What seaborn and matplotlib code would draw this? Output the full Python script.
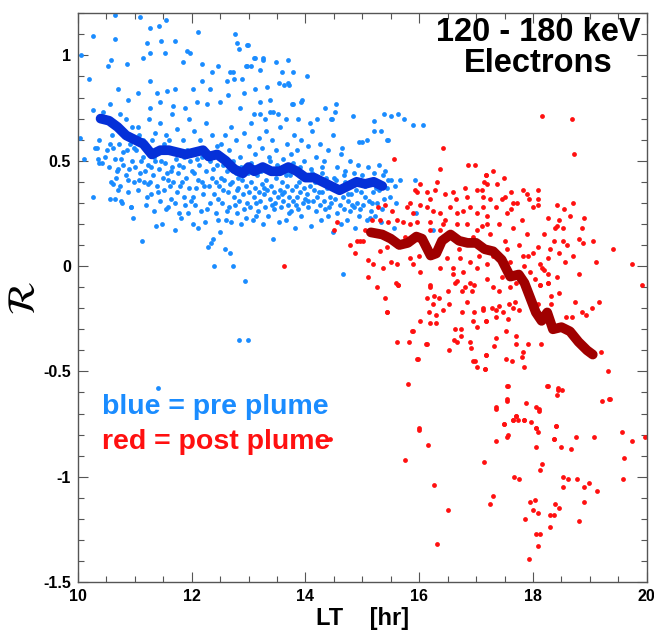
import numpy as np
import pandas as pd
import matplotlib
matplotlib.use("Agg")
import matplotlib.pyplot as plt
from matplotlib.ticker import MultipleLocator, FormatStrFormatter
import seaborn as sns

# pre plume (blue) scatter, local time [hr] and R
pre_lt = [
    10.65, 10.26, 10.05, 10.19, 10.04, 10.27, 10.27, 10.65, 11.10, 11.27, 11.43, 11.55, 11.21, 11.46, 11.70,
    12.11, 12.76, 12.79, 12.97, 10.53, 10.58, 10.86, 11.14, 11.27, 11.53, 11.91, 11.97, 11.84, 12.18, 12.36,
    12.46, 12.67, 12.97, 13.11, 13.25, 13.48, 13.69, 13.58, 13.78, 14.03, 10.70, 10.88, 11.05, 11.27, 11.39,
    11.56, 11.70, 12.02, 12.18, 12.32, 12.62, 13.11, 13.32, 13.53, 13.71, 10.56, 10.74, 11.27, 11.44, 11.67,
    11.88, 12.09, 12.27, 12.50, 12.64, 12.85, 13.20, 13.37, 13.78, 13.93, 12.83, 12.99, 13.09, 13.25, 12.73,
    12.74, 12.88, 12.95, 13.04, 13.20, 13.62, 13.69, 12.92, 13.37, 13.94, 13.76, 14.34, 14.53, 14.52, 14.45,
    14.83, 15.20, 15.38, 15.50, 15.62, 15.20, 15.33, 15.08, 14.94, 15.43, 14.20, 14.08, 13.87, 13.66, 13.52,
    13.43, 13.29, 13.20, 13.09, 14.46, 15.73, 15.89, 16.06, 14.64, 15.00, 15.45, 12.83, 12.99, 11.41,
    10.11, 10.33, 10.35, 10.37, 10.30, 10.38, 10.42, 10.45, 10.48,
    10.52, 10.55, 10.58, 10.60, 10.62, 10.65, 10.68, 10.70, 10.72, 10.74, 10.76, 10.78, 10.80, 10.82, 10.84,
    10.86, 10.88, 10.90, 10.92, 10.94, 10.96, 10.98, 10.62, 10.56, 10.66, 10.76, 10.70, 10.93, 10.97,
    11.01, 11.03, 11.05, 11.08, 11.10, 11.12, 11.14, 11.16, 11.18, 11.20, 11.22, 11.24, 11.26, 11.28, 11.30,
    11.32, 11.34, 11.36, 11.38, 11.40, 11.42, 11.44, 11.46, 11.48, 11.49,
    11.51, 11.53, 11.55, 11.57, 11.58, 11.60, 11.62, 11.64, 11.66, 11.68, 11.70, 11.72, 11.74, 11.76, 11.78,
    11.80, 11.81, 11.84, 11.86, 11.88, 11.90, 11.93, 11.95, 11.97, 11.99,
    12.02, 12.04, 12.06, 12.08, 12.11, 12.13, 12.16, 12.18, 12.20, 12.23, 12.25, 12.28, 12.30, 12.32, 12.34,
    12.36, 12.37, 12.39, 12.40, 12.42, 12.44, 12.46, 12.48, 12.50,
    12.52, 12.54, 12.56, 12.58, 12.60, 12.62, 12.64, 12.66, 12.67, 12.69, 12.71, 12.72, 12.74, 12.76, 12.78,
    12.80, 12.82, 12.84, 12.86, 12.88, 12.90, 12.92, 12.93, 12.95, 12.97, 12.99,
    13.01, 13.03, 13.05, 13.07, 13.09, 13.11, 13.13, 13.15, 13.17, 13.19, 13.21, 13.23, 13.25, 13.27, 13.29,
    13.31, 13.33, 13.35, 13.37, 13.39, 13.41, 13.43, 13.45, 13.47, 13.49,
    13.51, 13.53, 13.55, 13.57, 13.59, 13.61, 13.63, 13.65, 13.67, 13.69, 13.71, 13.73, 13.75, 13.77, 13.79,
    13.81, 13.83, 13.85, 13.87, 13.89, 13.91, 13.93, 13.95, 13.97, 13.99,
    14.02, 14.05, 14.08, 14.10, 14.13, 14.15, 14.18, 14.20, 14.23, 14.25, 14.28, 14.30, 14.33, 14.35, 14.38,
    14.40, 14.43, 14.45, 14.48,
    14.52, 14.55, 14.58, 14.60, 14.63, 14.66, 14.68, 14.70, 14.73, 14.75, 14.78, 14.80, 14.83, 14.86, 14.88,
    14.91, 14.94, 14.97,
    15.02, 15.05, 15.08, 15.12, 15.15, 15.18, 15.22, 15.26, 15.30, 15.34, 15.38, 15.43, 15.46, 15.50, 15.55,
    15.60, 15.66, 15.92, 15.95, 16.24, 15.13, 14.66,
    12.52, 12.58, 12.65, 12.70, 12.78, 12.85, 12.92, 13.00, 13.05, 13.12, 13.18, 13.24, 13.30, 13.36, 13.42,
    13.48, 13.55, 13.60, 13.68, 13.74, 13.80, 13.86, 13.92, 13.98, 14.05, 14.12, 14.18, 14.25, 14.32, 14.40,
    14.48, 14.55, 14.62, 14.70, 14.78, 14.85, 14.92, 15.00, 15.10, 15.20, 15.30, 15.40,
    11.05, 11.15, 11.25, 11.35, 11.45, 11.55, 11.65, 11.75, 11.85, 11.95, 12.05, 12.15, 12.25, 12.35, 12.45,
    10.85, 10.95,
    13.10, 13.30, 13.50, 13.70, 13.90, 14.10, 14.30, 14.50, 14.70, 14.90,
    11.07, 11.19, 11.33, 11.41, 11.52, 11.63, 11.71, 11.83, 11.92,
    12.03, 12.12, 12.19, 12.27, 12.38, 12.47, 12.55, 12.63, 12.73, 12.79, 12.87, 12.96,
    13.04, 13.14, 13.22, 13.28, 13.38, 13.44, 13.52, 13.58, 13.66, 13.72, 13.78, 13.84, 13.88, 13.96,
    14.04, 14.11, 14.17, 14.24, 14.29, 14.36, 14.42, 14.47, 14.54, 14.61, 14.67, 14.74, 14.81, 14.89, 14.96,
    15.04, 15.11, 15.17, 15.24, 15.32, 15.37, 15.48, 15.58,
    10.57, 10.67, 10.79, 10.89, 10.99,
    11.11, 11.23, 11.29, 11.47, 11.59, 11.77, 11.87,
    12.01, 12.09, 12.22, 12.33, 12.43, 12.57, 12.68, 12.81,
]
pre_r = [
    1.19, 1.09, 1.00, 0.89, 0.61, 0.74, 0.33, 1.08, 1.18, 1.13, 1.14, 1.17, 1.06, 1.07, 1.07,
    1.11, 1.10, 1.06, 1.05, 0.95, 0.98, 0.96, 0.99, 1.01, 1.01, 1.02, 1.01, 0.97, 0.96, 0.92,
    0.95, 0.92, 0.95, 0.99, 0.99, 0.97, 0.98, 0.92, 0.92, 0.90, 0.84, 0.79, 0.82, 0.88, 0.82,
    0.83, 0.84, 0.84, 0.88, 0.84, 0.88, 0.84, 0.85, 0.87, 0.86, 0.77, 0.72, 0.75, 0.78, 0.76,
    0.75, 0.78, 0.77, 0.78, 0.81, 0.75, 0.78, 0.73, 0.77, 0.78, 1.03, 1.05, 0.99, 0.98, 0.92,
    0.89, 0.89, 0.95, 0.95, 0.93, 0.86, 0.87, 0.82, 0.79, 0.79, 0.77, 0.75, 0.77, 0.73, 0.70,
    0.71, 0.69, 0.72, 0.71, 0.72, 0.64, 0.64, 0.60, 0.59, 0.60, 0.70, 0.68, 0.70, 0.70, 0.72,
    0.73, 0.70, 0.72, 0.72, 0.70, 0.70, 0.67, 0.67, 0.56, 0.59, 0.60, -0.35, -0.35, -0.58,
    0.51, 0.56, 0.51, 0.49, 0.56, 0.60, 0.49, 0.73, 0.52,
    0.55, 0.47, 0.40, 0.62, 0.56, 0.51, 0.45, 0.36, 0.58, 0.38, 0.51, 0.30, 0.48, 0.64, 0.43,
    0.55, 0.35, 0.46, 0.58, 0.28, 0.50, 0.40, 0.39, 0.32, 0.32, 0.31, 0.46, 0.28, 0.23,
    0.47, 0.55, 0.36, 0.62, 0.44, 0.12, 0.52, 0.40, 0.45, 0.57, 0.33, 0.48, 0.40, 0.34, 0.60,
    0.43, 0.26, 0.50, 0.19, 0.38, 0.46, 0.31, 0.55, 0.20, 0.42,
    0.36, 0.49, 0.27, 0.44, 0.28, 0.60, 0.38, 0.32, 0.47, 0.40, 0.17, 0.51, 0.35, 0.44, 0.25,
    0.38, 0.23, 0.47, 0.33, 0.29, 0.42, 0.25, 0.37, 0.50, 0.31,
    0.20, 0.44, 0.29, 0.37, 0.18, 0.48, 0.26, 0.40, 0.34, 0.21, 0.45, 0.09, 0.38, 0.30, 0.11,
    0.42, 0.13, 0.00, 0.34, 0.25, 0.48, 0.32, 0.38, 0.16,
    0.42, 0.30, 0.36, 0.08, 0.22, 0.45, 0.35, 0.28, 0.06, 0.21, 0.40, 0.00, 0.33, 0.29, 0.44,
    0.25, 0.37, 0.31, 0.20, 0.41, 0.34, 0.27, -0.07, 0.38, 0.30, 0.44,
    0.35, 0.28, 0.40, 0.22, 0.33, 0.37, 0.30, 0.43, 0.26, 0.35, 0.31, 0.39, 0.20, 0.34, 0.28,
    0.41, 0.36, 0.24, 0.32, 0.38, 0.29, 0.13, 0.35, 0.30, 0.42,
    0.33, 0.21, 0.36, 0.28, 0.40, 0.31, 0.35, 0.22, 0.38, 0.29, 0.33, 0.43, 0.26, 0.36, 0.31,
    0.18, 0.38, 0.33, 0.27, 0.40, 0.35, 0.24, 0.30, 0.37, 0.32,
    0.34, 0.28, 0.38, 0.19, 0.31, 0.36, 0.26, 0.33, 0.40, 0.29, 0.22, 0.35, 0.31, 0.27, 0.37,
    0.24, 0.33, 0.30, 0.16,
    0.32, 0.25, 0.36, 0.29, 0.20, 0.33, 0.27, 0.37, 0.22, 0.31, 0.26, 0.34, 0.39, 0.28, 0.18,
    0.30, 0.24, 0.35,
    0.29, 0.33, 0.22, 0.31, 0.26, 0.35, 0.24, 0.30, 0.36, 0.27, 0.32, 0.37, 0.41, 0.41, 0.18,
    0.30, 0.41, 0.41, 0.25, 0.17, 0.23, -0.04,
    0.58, 0.62, 0.55, 0.66, 0.60, 0.52, 0.63, 0.57, 0.68, 0.53, 0.61, 0.56, 0.64, 0.52, 0.60,
    0.55, 0.66, 0.51, 0.58, 0.53, 0.62, 0.55, 0.60, 0.50, 0.57, 0.64, 0.52, 0.58, 0.50, 0.55,
    0.62, 0.47, 0.53, 0.45, 0.50, 0.44, 0.48, 0.43, 0.47, 0.44, 0.48, 0.45,
    0.66, 0.60, 0.70, 0.63, 0.68, 0.62, 0.72, 0.65, 0.60, 0.70, 0.64, 0.60, 0.68, 0.62, 0.57,
    0.70, 0.66,
    0.47, 0.46, 0.48, 0.45, 0.47, 0.46, 0.44, 0.42, 0.40, 0.41,
    0.41, 0.29, 0.52, 0.35, 0.58, 0.45, 0.30, 0.40, 0.55,
    0.33, 0.41, 0.52, 0.27, 0.46, 0.22, 0.48, 0.26, 0.50, 0.36, 0.47, 0.23,
    0.49, 0.24, 0.45, 0.37, 0.50, 0.27, 0.47, 0.34, 0.43, 0.25, 0.49, 0.29, 0.45, 0.43,
    0.31, 0.44, 0.40, 0.35, 0.47, 0.42, 0.28, 0.38, 0.41, 0.37, 0.43, 0.34, 0.29, 0.36, 0.27,
    0.38, 0.40, 0.30, 0.37, 0.21, 0.43, 0.33, 0.38,
    0.58, 0.42, 0.54, 0.41, 0.56,
    0.50, 0.39, 0.47, 0.50, 0.41, 0.48, 0.52,
    0.45, 0.51, 0.38, 0.50, 0.40, 0.41, 0.39, 0.42,
]

# post plume (red) scatter
post_lt = [
    13.62, 18.15, 18.68, 18.72, 17.29, 17.49, 17.17, 17.36, 17.14, 17.61, 17.82, 18.08, 17.89, 18.08, 17.93,
    17.65, 17.50, 17.24, 17.10, 18.42, 18.70, 18.54, 18.00, 18.08, 18.26, 18.65, 18.89, 18.42, 18.52, 18.86,
    18.38, 18.80, 18.87, 19.05, 19.40, 19.10, 19.74, 19.91, 18.56, 18.45, 18.26, 18.52, 18.37, 18.08, 18.00,
    17.91, 18.12, 18.26, 18.42, 18.80, 18.15, 18.12, 18.26, 18.03,
    16.41, 15.55, 16.85, 16.98, 17.17, 16.36, 16.31, 16.01, 15.92, 15.96, 16.13, 16.19, 16.27, 16.45, 16.59,
    16.64, 16.80, 16.84, 17.01, 17.12, 17.19, 15.83, 15.78, 15.89, 16.01, 16.13, 16.24, 16.36, 16.54, 16.66,
    16.77, 16.89, 17.01, 17.12, 17.19, 15.27, 15.40, 15.52, 15.61, 15.71, 15.31, 15.17, 15.45, 15.83, 15.96,
    16.19, 16.41, 16.66, 16.84, 17.10, 16.19, 16.36, 17.01, 14.55, 14.50, 14.90, 15.01, 14.78, 14.87, 15.10,
    15.18, 15.31, 15.43, 15.36, 15.61, 15.83, 15.89, 15.63, 15.10, 16.01, 16.19, 16.36, 16.48, 16.59, 16.71,
    16.77, 16.89, 17.01, 16.66, 16.89, 17.19, 17.19,
    15.59, 15.63, 16.19, 16.13, 16.26, 16.34, 16.50, 16.63, 16.75, 16.80, 16.92, 16.96, 16.24, 16.52, 16.84,
    17.12, 15.43, 16.17, 16.29, 16.41, 16.75, 16.96, 16.01, 16.19, 16.29, 15.89, 16.94, 17.17, 16.63, 16.73,
    16.73, 17.01, 15.61, 15.82, 16.13, 16.61, 16.66, 16.89, 16.91, 16.52, 17.17, 15.98, 16.94, 16.98, 17.01,
    17.15, 15.80, 15.99, 14.43,
    15.75, 15.99, 16.15, 16.26, 16.50, 16.31, 17.14, 17.29, 17.24, 17.35, 17.35, 17.49, 17.54, 17.54, 17.56,
    17.65, 17.70, 17.73, 17.66, 17.75, 17.84, 17.87, 17.86, 17.94, 17.93, 17.96, 18.00, 18.03, 18.06, 18.06,
    18.06, 18.08, 18.05, 18.12, 18.08, 18.10, 18.12, 18.15, 18.24, 18.30, 18.30, 18.37, 18.37, 18.38, 18.40,
    18.42, 18.44, 18.45, 18.49, 18.51, 18.52, 18.52, 18.61, 18.66, 18.75, 18.77, 18.80, 18.89, 18.89, 18.98,
    19.07, 19.12, 19.21, 19.35, 19.19, 19.31, 19.56, 19.60, 19.58, 19.74, 19.97, 15.87, 16.12, 15.96,
    17.12, 17.17, 17.28, 17.35, 17.35, 17.40, 17.47, 17.57, 17.64, 17.69, 17.75, 17.56, 17.52, 17.70, 17.35,
    17.31, 17.70, 17.91, 17.82, 17.80, 17.17, 17.52, 17.63, 17.84, 17.15, 18.14, 18.09, 18.31, 18.31, 18.46,
    18.27, 18.12, 18.73, 18.86, 18.93, 19.03, 19.16, 18.58, 18.68, 19.33, 18.26, 18.44, 17.56, 17.54, 17.35,
    18.10, 17.70, 17.64, 17.84, 17.49, 18.40, 18.06, 18.08, 17.54, 18.37,
    17.25, 17.30, 17.40, 17.45, 17.50, 17.55, 17.60, 17.65, 17.70, 17.75, 17.80, 17.85, 17.90, 17.95, 17.35,
    17.45, 17.55, 17.62, 17.72, 17.82, 18.20, 18.30, 18.45, 18.60, 18.70, 18.20, 17.30, 17.40, 17.60, 17.20,
    17.05, 16.95, 16.70, 16.60, 16.45, 16.00, 16.10, 15.75, 15.50, 15.25, 15.40, 15.05, 15.43, 14.96,
]
post_r = [
    0.00, 0.71, 0.70, 0.53, 0.45, 0.42, 0.43, 0.39, 0.40, 0.35, 0.36, 0.36, 0.34, 0.32, 0.32,
    0.30, 0.33, 0.32, 0.36, 0.29, 0.30, 0.27, 0.28, 0.29, 0.23, 0.24, 0.23, 0.19, 0.18, 0.18,
    0.18, 0.13, 0.11, 0.12, 0.08, 0.02, 0.01, -0.09, 0.02, 0.06, 0.04, 0.12, 0.12, 0.09, 0.06,
    0.05, 0.01, -0.04, -0.05, -0.04, -0.01, -0.09, -0.08, -0.06,
    0.56, 0.51, 0.48, 0.48, 0.43, 0.46, 0.40, 0.39, 0.36, 0.35, 0.35, 0.32, 0.36, 0.34, 0.35,
    0.32, 0.37, 0.33, 0.36, 0.33, 0.39, 0.30, 0.28, 0.25, 0.29, 0.28, 0.26, 0.25, 0.28, 0.25,
    0.26, 0.28, 0.25, 0.28, 0.24, 0.28, 0.29, 0.26, 0.22, 0.21, 0.22, 0.22, 0.21, 0.20, 0.21,
    0.21, 0.20, 0.20, 0.20, 0.19, 0.17, 0.17, 0.17, 0.21, 0.17, 0.12, 0.12, 0.10, 0.06, 0.03,
    0.01, 0.07, 0.09, -0.01, 0.01, 0.04, 0.01, -0.09, -0.05, -0.03, -0.09, -0.01, 0.04, -0.01, 0.04,
    -0.03, 0.02, -0.01, -0.07, -0.08, -0.06, 0.01,
    -0.08, -0.09, -0.10, -0.15, -0.14, -0.15, -0.12, -0.08, -0.12, -0.10, -0.12, -0.09, -0.18, -0.18, -0.17,
    -0.21, -0.22, -0.22, -0.23, -0.21, -0.22, -0.22, -0.26, -0.27, -0.27, -0.31, -0.26, -0.26, -0.30, -0.30,
    -0.33, -0.29, -0.36, -0.36, -0.37, -0.35, -0.36, -0.36, -0.39, -0.40, -0.42, -0.44, -0.45, -0.45, -0.48,
    -0.49, -0.56, -0.78, -0.82,
    -0.92, -0.77, -0.85, -1.04, -1.16, -1.32, -0.93, -1.09, -1.13, -0.68, -0.83, -0.75, -0.64, -0.57, -0.80,
    -0.73, -0.71, -0.73, -1.00, -1.01, -0.73, -0.65, -1.20, -1.12, -1.39, -0.74, -1.16, -1.11, -0.77, -0.67,
    -0.86, -1.17, -1.27, -1.27, -1.33, -0.69, -0.97, -0.94, -0.57, -1.18, -1.24, -1.18, -0.82, -1.13, -0.76,
    -0.61, -0.59, -1.15, -0.86, -0.59, -1.05, -1.00, -1.01, -0.87, -0.81, -1.01, -1.21, -1.05, -1.12, -1.03,
    -0.81, -1.07, -0.64, -0.63, -0.41, -0.50, -0.79, -0.91, -1.01, -0.83, -0.81, -0.31, -0.37, -0.44,
    -0.20, -0.26, -0.20, -0.21, -0.24, -0.19, -0.22, -0.18, -0.20, -0.17, -0.21, -0.25, -0.31, -0.33, -0.34,
    -0.38, -0.37, -0.37, -0.41, -0.43, -0.42, -0.44, -0.45, -0.48, -0.49, -0.37, -0.18, -0.18, -0.14, -0.13,
    -0.08, -0.09, -0.17, -0.22, -0.23, -0.20, -0.17, -0.24, -0.24, -0.63, -0.57, -0.58, -0.57, -0.63, -0.67,
    -0.68, -0.71, -0.73, -0.73, -0.75, -0.76, -0.77, -0.79, -0.81, -0.82,
    0.15, 0.05, 0.20, -0.05, 0.12, 0.25, 0.02, 0.18, -0.08, 0.10, 0.22, 0.00, 0.15, -0.03, 0.28,
    0.32, 0.08, 0.27, 0.30, 0.05, 0.15, 0.08, 0.22, 0.10, 0.05, -0.02, -0.10, -0.12, -0.10, 0.20,
    0.05, 0.14, 0.08, -0.04, 0.22, 0.05, 0.10, 0.14, 0.02, -0.10, -0.15, 0.17, -0.22, 0.12,
]

# running means
pre_mean_lt = [10.40, 10.55, 10.70, 10.85, 11.00, 11.15, 11.30, 11.45, 11.60, 11.75, 11.90, 12.05, 12.20,
               12.30, 12.45, 12.60, 12.75, 12.90, 13.00, 13.10, 13.25, 13.40, 13.55, 13.70, 13.85, 14.00,
               14.15, 14.30, 14.45, 14.60, 14.75, 14.90, 15.05, 15.20, 15.35]
pre_mean_r = [0.70, 0.69, 0.66, 0.62, 0.60, 0.58, 0.53, 0.55, 0.55, 0.54, 0.53, 0.54, 0.55,
              0.52, 0.53, 0.50, 0.46, 0.44, 0.47, 0.45, 0.47, 0.45, 0.45, 0.47, 0.45, 0.42,
              0.42, 0.40, 0.38, 0.36, 0.38, 0.40, 0.39, 0.40, 0.38]
post_mean_lt = [15.15, 15.35, 15.50, 15.65, 15.80, 15.95, 16.05, 16.20, 16.30, 16.40, 16.55, 16.70, 16.85,
                17.00, 17.15, 17.30, 17.45, 17.60, 17.75, 17.85, 17.95, 18.05, 18.15, 18.25, 18.35, 18.50,
                18.65, 18.80, 18.95, 19.05]
post_mean_r = [0.16, 0.15, 0.13, 0.10, 0.11, 0.14, 0.13, 0.05, 0.06, 0.12, 0.15, 0.12, 0.11,
               0.11, 0.08, 0.07, 0.03, -0.05, -0.04, -0.08, -0.15, -0.22, -0.26, -0.22, -0.30, -0.29,
               -0.31, -0.36, -0.40, -0.42]

pre = pd.DataFrame({"lt": pre_lt, "r": pre_r})
post = pd.DataFrame({"lt": post_lt, "r": post_r})
pre_mean = pd.DataFrame({"lt": pre_mean_lt, "r": pre_mean_r})
post_mean = pd.DataFrame({"lt": post_mean_lt, "r": post_mean_r})

sns.set_style("ticks")
plt.rcParams["font.family"] = ["Liberation Sans", "DejaVu Sans"]
plt.rcParams["mathtext.fontset"] = "stix"
plt.rcParams["text.color"] = "black"
plt.rcParams["axes.labelcolor"] = "black"

fig = plt.figure(figsize=(6.54, 6.32), dpi=100)
ax = fig.add_axes([0.119, 0.079, 0.870, 0.900])

light_blue = "#1a8cff"
red = "#ff1010"
sns.scatterplot(data=pre, x="lt", y="r", ax=ax, color=light_blue, s=12, linewidth=0, zorder=2)
sns.scatterplot(data=post, x="lt", y="r", ax=ax, color=red, s=12, linewidth=0, zorder=2)
sns.lineplot(data=pre_mean, x="lt", y="r", ax=ax, color="#0530d8", linewidth=7,
             estimator=None, sort=False, zorder=3, solid_capstyle="round")
sns.lineplot(data=post_mean, x="lt", y="r", ax=ax, color="#a00000", linewidth=7,
             estimator=None, sort=False, zorder=3, solid_capstyle="round")

ax.set_xlim(10, 20)
ax.set_ylim(-1.5, 1.2)
ax.xaxis.set_major_locator(MultipleLocator(2))
ax.xaxis.set_minor_locator(MultipleLocator(0.5))
ax.yaxis.set_major_locator(MultipleLocator(0.5))
ax.yaxis.set_minor_locator(MultipleLocator(0.1))
ax.yaxis.set_major_formatter(FormatStrFormatter("%g"))
ax.tick_params(which="both", direction="in", top=True, right=True, width=0.8,
               color="#555555", labelcolor="black")
ax.tick_params(which="major", length=7, labelsize=11.5, pad=5)
ax.tick_params(which="minor", length=4)
for lab in ax.get_xticklabels() + ax.get_yticklabels():
    lab.set_fontweight("bold")
for sp in ax.spines.values():
    sp.set_color("#555555")
    sp.set_linewidth(1.0)

ax.set_xlabel("LT    [hr]", fontsize=17, fontweight="bold")
ax.xaxis.set_label_coords(0.5, -0.044)
ax.set_ylabel(r"$\mathcal{R}$", fontsize=28)
ax.yaxis.set_label_coords(-0.062, 0.5)

ax.text(0.81, 0.993, "120 - 180 keV\nElectrons", transform=ax.transAxes, ha="center", va="top",
        fontsize=23.5, fontweight="bold", linespacing=1.0)
ax.text(10.42, -0.70, "blue = pre plume", color=light_blue, fontsize=20.5, fontweight="bold")
ax.text(10.42, -0.87, "red = post plume", color=red, fontsize=20.5, fontweight="bold")

fig.savefig("out.png", dpi=100)
